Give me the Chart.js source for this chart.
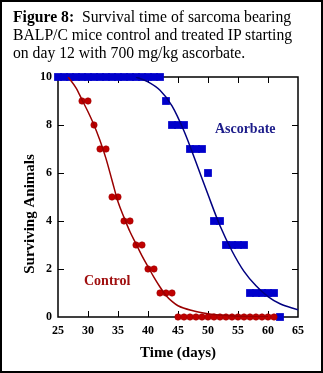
<!DOCTYPE html>
<html>
<head>
<meta charset="utf-8">
<script src="https://cdn.jsdelivr.net/npm/chart.js@4.4.1/dist/chart.umd.min.js"></script>
<style>
  html, body { margin: 0; padding: 0; background: #fff; }
  #wrap { position: relative; width: 323px; height: 373px; }
  #chart { position: absolute; left: 0; top: 0; }
  #frame { position: absolute; inset: 0; border: 2px solid #000; pointer-events: none; }
  #caption {
    position: absolute; left: 13px; top: 8px;
    font: 15.7px "Liberation Serif", "Times New Roman", serif; line-height: 18px; color: #000;
    white-space: nowrap;
  }
</style>
</head>
<body>
<div id="wrap">
  <canvas id="chart" width="323" height="373"></canvas>
  <div id="caption"><b>Figure 8:</b>&nbsp; Survival time of sarcoma bearing<br>BALP/C mice control and treated IP starting<br>on day 12 with 700 mg/kg ascorbate.</div>
  <div id="frame"></div>
</div>
<script>
// observed survivors per day
const controlDays  = [29, 30, 31, 32, 33, 34, 35, 36, 37, 38, 39, 40, 41, 42, 43, 44,
                      45, 46, 47, 48, 49, 50, 51, 52, 53, 54, 55, 56, 57, 58, 59, 60, 61];
const controlAlive = [9, 9, 8, 7, 7, 5, 5, 4, 4, 3, 3, 2, 2, 1, 1, 1,
                      0, 0, 0, 0, 0, 0, 0, 0, 0, 0, 0, 0, 0, 0, 0, 0, 0];

const ascorbateDays  = [25, 26, 27, 28, 29, 30, 31, 32, 33, 34, 35, 36, 37, 38, 39, 40, 41, 42,
                        43, 44, 45, 46, 47, 48, 49, 50, 51, 52, 53, 54, 55, 56, 57, 58, 59, 60, 61, 62];
const ascorbateAlive = [10, 10, 10, 10, 10, 10, 10, 10, 10, 10, 10, 10, 10, 10, 10, 10, 10, 10,
                        9, 8, 8, 8, 7, 7, 7, 6, 4, 4, 3, 3, 3, 3, 1, 1, 1, 1, 1, 0];

// fitted curves
const controlFitDays  = [26.7, 28, 29, 30, 31, 32, 33, 34, 35, 36, 37, 38, 39, 40, 41, 42, 43, 44, 45, 47.5, 50, 52.5, 55, 60];
const controlFitAlive = [10, 9.55, 9.05, 8.55, 8.0, 7.35, 6.6, 5.7, 4.8, 4.15, 3.55, 3.05, 2.55, 2.1, 1.65, 1.25, 0.9, 0.65, 0.47, 0.26, 0.14, 0.07, 0.03, 0.01];

const ascorbateFitDays  = [38, 40, 42, 44, 46, 48, 50, 52, 54, 56, 58, 60, 62, 65];
const ascorbateFitAlive = [10, 9.8, 9.45, 8.8, 7.75, 6.45, 5.1, 3.8, 2.75, 1.9, 1.3, 0.85, 0.55, 0.3];

const xTicks = [25, 30, 35, 40, 45, 50, 55, 60, 65];
const yTicks = [0, 2, 4, 6, 8, 10];

const RED = '#c00000', DARK_RED = '#9a0000', BLUE = '#0000cc', NAVY = '#000080';
const serif = '"Liberation Serif", "Times New Roman", serif';

const pts = (xs, ys) => xs.map((x, i) => ({ x, y: ys[i] }));

// frame with inward ticks, series labels, y title
const decor = {
  id: 'decor',
  beforeDatasetsDraw(chart) {
    const { ctx, chartArea: a, scales: { x, y } } = chart;
    ctx.save();
    ctx.strokeStyle = '#000';
    ctx.lineWidth = 1.5;
    ctx.strokeRect(a.left, a.top, a.right - a.left, a.bottom - a.top);
    ctx.lineWidth = 1;
    ctx.beginPath();
    xTicks.slice(1, -1).forEach(v => {
      const px = Math.round(x.getPixelForValue(v)) + 0.5;
      ctx.moveTo(px, a.bottom); ctx.lineTo(px, a.bottom - 6);
      ctx.moveTo(px, a.top); ctx.lineTo(px, a.top + 6);
    });
    yTicks.slice(1, -1).forEach(v => {
      const py = Math.round(y.getPixelForValue(v)) + 0.5;
      ctx.moveTo(a.left, py); ctx.lineTo(a.left + 6, py);
      ctx.moveTo(a.right, py); ctx.lineTo(a.right - 6, py);
    });
    ctx.stroke();
    ctx.restore();
  },
  afterDraw(chart) {
    const { ctx, scales: { x, y } } = chart;
    ctx.save();
    ctx.textAlign = 'center';
    ctx.textBaseline = 'middle';
    ctx.font = 'bold 14px ' + serif;
    ctx.fillStyle = '#1c1c8a';
    ctx.fillText('Ascorbate', x.getPixelForValue(56.2), y.getPixelForValue(7.8));
    ctx.fillStyle = '#a01010';
    ctx.fillText('Control', x.getPixelForValue(33.2), y.getPixelForValue(1.5));
    ctx.translate(30, 214);
    ctx.rotate(-Math.PI / 2);
    ctx.font = 'bold 15px ' + serif;
    ctx.fillStyle = '#000';
    ctx.fillText('Surviving Animals', 0, 0);
    ctx.restore();
  },
};

new Chart(document.getElementById('chart').getContext('2d'), {
  type: 'scatter',
  data: {
    datasets: [
      { label: 'Control fit', type: 'line', data: pts(controlFitDays, controlFitAlive),
        borderColor: DARK_RED, borderWidth: 1.5, pointRadius: 0, fill: false, tension: 0.4, cubicInterpolationMode: 'monotone' },
      { label: 'Ascorbate fit', type: 'line', data: pts(ascorbateFitDays, ascorbateFitAlive),
        borderColor: NAVY, borderWidth: 1.5, pointRadius: 0, fill: false, tension: 0.4, cubicInterpolationMode: 'monotone' },
      { label: 'Control', data: pts(controlDays, controlAlive), clip: false,
        pointStyle: 'circle', pointRadius: 3.2, backgroundColor: RED, borderColor: '#a00000', borderWidth: 0.6 },
      { label: 'Ascorbate', data: pts(ascorbateDays, ascorbateAlive), clip: false,
        pointStyle: 'rect', pointRadius: 5.5, backgroundColor: BLUE, borderColor: BLUE, borderWidth: 0 },
    ],
  },
  options: {
    responsive: false, animation: false,
    layout: { padding: { left: 0, top: 77, right: 25, bottom: 0 } },
    plugins: { legend: { display: false }, tooltip: { enabled: false } },
    scales: {
      x: {
        type: 'linear', min: 25, max: 65,
        grid: { display: false, drawTicks: false }, border: { display: false },
        afterBuildTicks: s => { s.ticks = xTicks.map(value => ({ value })); },
        afterFit: s => { s.height = 56; },
        ticks: { color: '#000', font: { family: serif, size: 12, weight: 'bold' }, padding: 7, maxRotation: 0 },
        title: { display: true, text: 'Time (days)', color: '#000', font: { family: serif, size: 15, weight: 'bold' }, padding: { top: 0, bottom: 11 } },
      },
      y: {
        min: 0, max: 10,
        grid: { display: false, drawTicks: false }, border: { display: false },
        afterBuildTicks: s => { s.ticks = yTicks.map(value => ({ value })); },
        afterFit: s => { s.width = 58; },
        ticks: { color: '#000', font: { family: serif, size: 12, weight: 'bold' }, padding: 6 },
      },
    },
  },
  plugins: [decor],
});
</script>
</body>
</html>
